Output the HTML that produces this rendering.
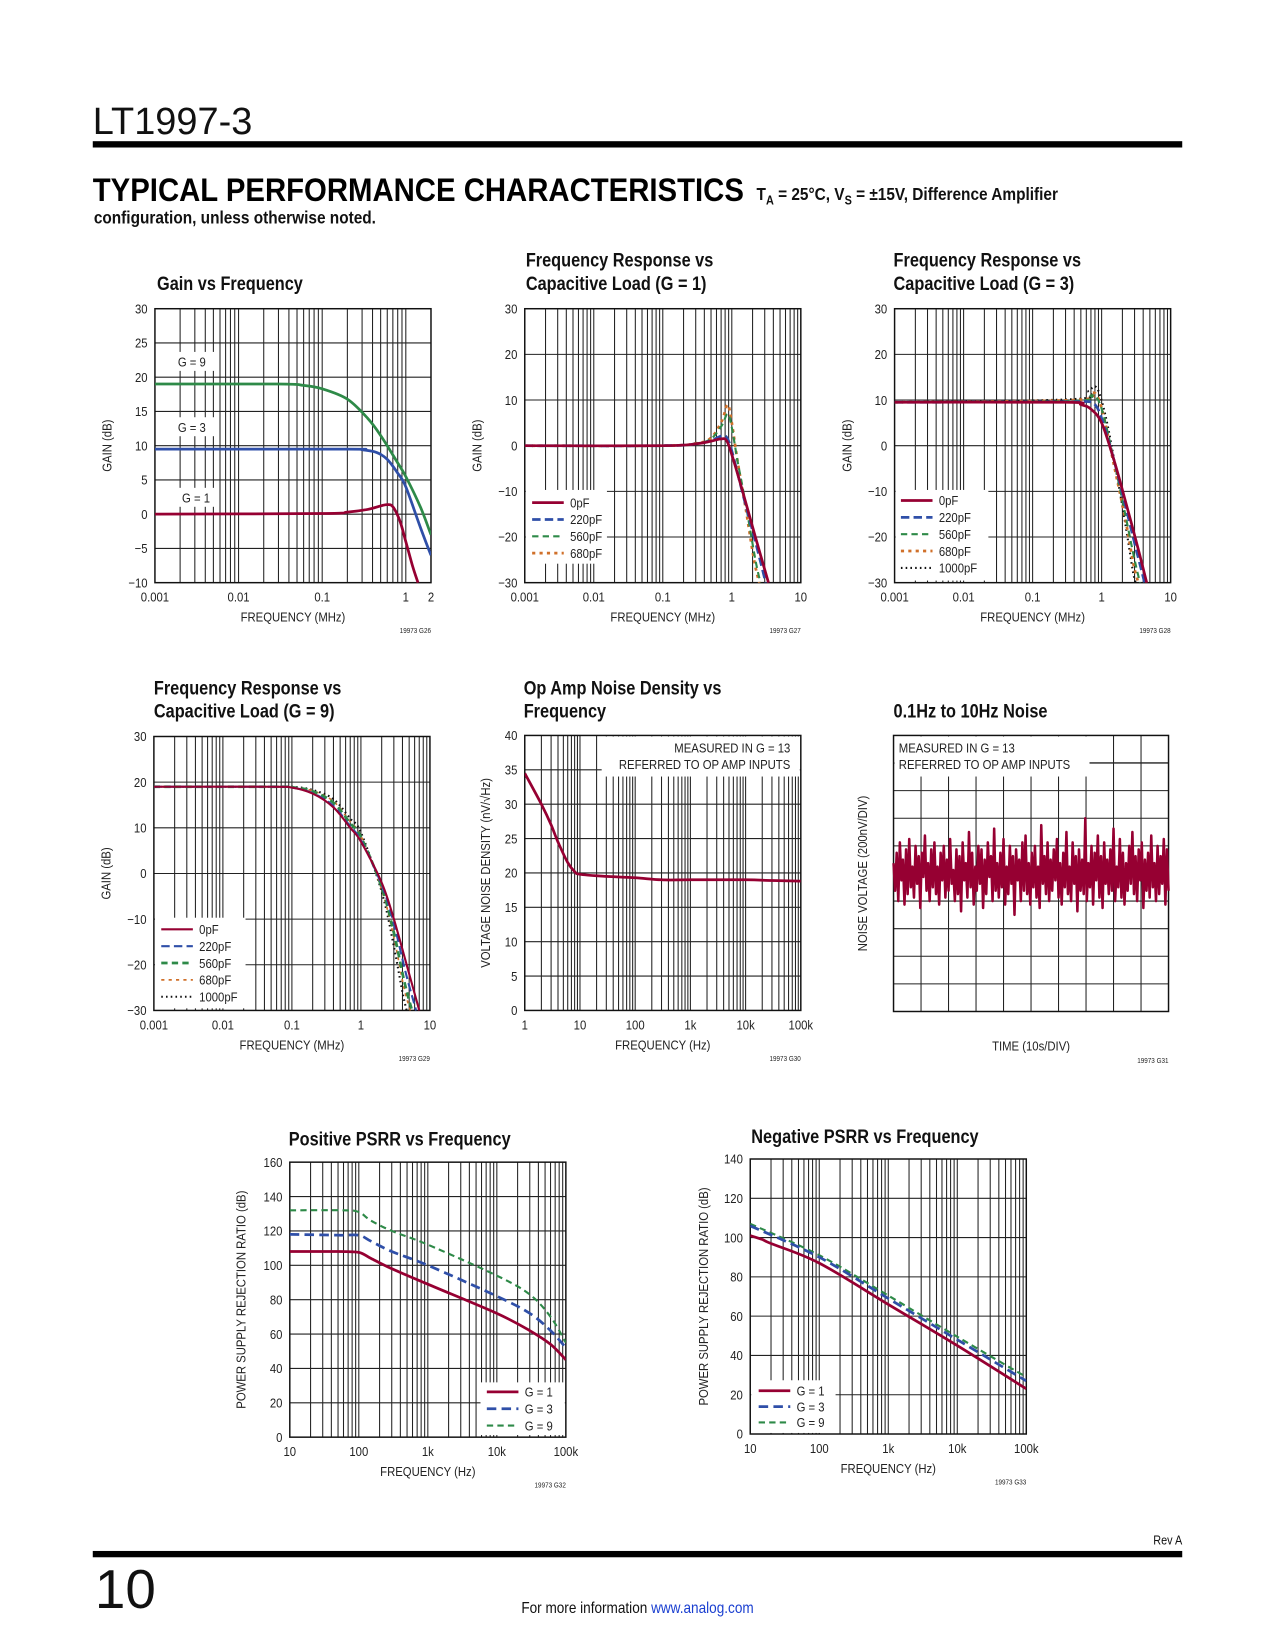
<!DOCTYPE html>
<html><head><meta charset="utf-8"><style>
html,body{margin:0;padding:0;background:#fff;}
svg{display:block;font-family:"Liberation Sans Narrow","Liberation Sans",sans-serif;}
</style></head><body>
<svg id="pg" width="1275" height="1650" viewBox="0 0 1210 1566" xmlns="http://www.w3.org/2000/svg">
<text x="88" y="127" font-size="36" font-family="Liberation Sans" font-weight="300" fill="#111">LT1997-3</text>
<rect x="88" y="134" width="1034" height="6" fill="#000"/>
<text x="88" y="191" font-size="31" font-weight="bold" font-family="Liberation Sans" fill="#000" textLength="618" lengthAdjust="spacingAndGlyphs">TYPICAL PERFORMANCE CHARACTERISTICS</text>
<text transform="translate(718,190) scale(0.86,1)" font-size="17" font-weight="bold" fill="#111">T<tspan font-size="12" dy="4">A</tspan><tspan dy="-4"> = 25°C, V</tspan><tspan font-size="12" dy="4">S</tspan><tspan dy="-4"> = ±15V, Difference Amplifier</tspan></text>
<text transform="translate(89,212) scale(0.86,1)" font-size="17" font-weight="bold" fill="#111">configuration, unless otherwise noted.</text>
<text transform="translate(1122,1466) scale(0.86,1)" font-size="12" text-anchor="end" fill="#111">Rev A</text>
<rect x="88" y="1472" width="1034" height="6" fill="#000"/>
<text x="90" y="1526" font-size="52" font-family="Liberation Sans" font-weight="300" fill="#111">10</text>
<text transform="translate(605,1531) scale(0.86,1)" font-size="15" text-anchor="middle" fill="#111">For more information <tspan fill="#1a3fd0">www.analog.com</tspan></text>
<g id="charts"></g>
</svg>
<script>
// ---------- data ----------
const c1G1 = [[0.001,0],[0.1,0.1],[0.2,0.3],[0.35,0.7],[0.5,1.2],[0.6,1.4],[0.7,1.1],[0.85,-1],[1.0,-4],[1.2,-7.5],[1.4,-10]];
const c1G3 = [[0.001,9.5],[0.2,9.5],[0.3,9.4],[0.45,9],[0.6,8],[0.8,6],[1,4],[1.5,-2],[2,-6]];
const c1G9 = [[0.001,19],[0.03,19],[0.06,18.8],[0.1,18.3],[0.2,16.8],[0.35,14],[0.5,11.5],[0.8,7.5],[1,5.5],[1.5,1],[2,-3]];
const c2P0 = [[0.001,0],[0.1,0],[0.3,0.4],[0.5,1],[0.7,1.5],[0.85,1],[1.05,-3],[1.5,-11],[2.2,-20],[3.4,-30]];
const c2P220 = [[0.001,0],[0.1,0],[0.3,0.4],[0.5,1.1],[0.75,2.2],[0.9,1],[1.1,-3.5],[1.5,-11.5],[2.2,-21],[3.1,-30]];
const c2P560 = [[0.001,0],[0.1,0],[0.3,0.5],[0.5,1.5],[0.72,4.5],[0.87,7],[1.0,4],[1.2,-3],[1.6,-13],[2.2,-25],[2.6,-30]];
const c2P680 = [[0.001,0],[0.1,0],[0.3,0.5],[0.5,1.7],[0.72,5.5],[0.87,9],[1.0,5],[1.2,-3],[1.6,-14],[2.1,-25],[2.5,-30]];
const c3P0 = [[0.001,9.5],[0.3,9.5],[0.5,9],[0.7,8],[1,5],[1.5,-3],[2.2,-12],[3.3,-22],[4.5,-30]];
const c3P220 = [[0.001,9.5],[0.3,9.6],[0.6,9.7],[0.8,9],[1,6],[1.5,-3],[2.2,-13],[3.2,-23],[4.2,-30]];
const c3P560 = [[0.001,9.5],[0.4,9.8],[0.7,11],[0.85,10.5],[1.05,7],[1.5,-3],[2.2,-15],[3,-25],[3.6,-30]];
const c3P680 = [[0.001,9.5],[0.4,10],[0.7,11.5],[0.85,11],[1.05,7],[1.5,-4],[2.2,-16],[2.9,-26],[3.4,-30]];
const c3P1000 = [[0.001,9.5],[0.4,10.2],[0.65,12],[0.8,13],[0.95,11],[1.2,5],[1.6,-5],[2.2,-17],[2.8,-27],[3.1,-30]];
const c4P0 = [[0.001,19],[0.05,19],[0.1,18.8],[0.2,17.5],[0.4,14.5],[0.7,10],[1,7],[2,-2],[3,-10],[5,-22],[7,-30]];
const c4P220 = [[0.001,19],[0.05,19],[0.1,18.8],[0.2,17.6],[0.4,14.8],[0.7,10.3],[1,7.3],[2,-2.5],[3,-11],[4.5,-22],[6.3,-30]];
const c4P560 = [[0.001,19],[0.05,19],[0.1,18.9],[0.2,18],[0.4,15.5],[0.7,11],[1,8],[2,-3],[3,-13],[4.3,-24],[5.5,-30]];
const c4P680 = [[0.001,19],[0.05,19],[0.1,18.9],[0.2,18.1],[0.4,15.8],[0.7,11.3],[1,8.2],[2,-3.5],[3,-14],[4.2,-25],[5.2,-30]];
const c4P1000 = [[0.001,19],[0.05,19],[0.1,19],[0.2,18.3],[0.4,16.3],[0.7,12],[1,9],[2,-4],[3,-16],[4,-26],[4.6,-30]];
const c5Noise = [[1,34.5],[2,30],[3,27],[4,24.5],[6,21.5],[8,20.2],[10,19.8],[30,19.5],[100,19.3],[300,19],[1000,19],[10000,19],[30000,18.9],[100000,18.8]];
const c6Noise = [3,-5,6,-8,9,-2,4,-9,7,-6,10,-4,2,-7,8,-3,5,-10,6,-1,11,-5,3,-8,7,-4,9,-6,2,-9,6,-2,8,-7,4,-5,10,-3,1,-8,7,-6,5,-11,9,-2,3,-7,12,-4,6,-9,2,-5,8,-3,7,-10,4,-6,9,-1,5,-8,13,-5,3,-7,6,-4,10,-9,2,-6,8,-3,5,-12,7,-2,4,-8,9,-5,11,-6,3,-9,6,-4,8,-7,2,-10,14,-3,5,-6,9,-8,4,-5,7,-2,10,-7,3,-9,6,-4,12,-6,2,-8,9,-3,5,-11,7,-5,4,-6,16,-8,3,-4,8,-9,6,-2,11,-7,5,-10,9,-3,4,-6,7,-5,13,-8,2,-4,10,-7,6,-9,3,-5,8,-3,12,-6,5,-8,7,-2,9,-10,4,-5,6,-7,11,-4,3,-8,8,-6,5,-3,10,-9,7,-5];
const c7G1 = [[10,108],[50,108],[100,107.5],[150,104],[300,98],[1000,89],[10000,72],[30000,62],[60000,54],[100000,45]];
const c7G3 = [[10,118],[50,117.5],[100,117.5],[150,114],[300,108],[1000,100],[10000,82],[30000,72],[60000,62],[100000,52]];
const c7G9 = [[10,132],[60,132],[100,131],[150,126],[300,120],[1000,112],[10000,94],[30000,83],[60000,70],[100000,55]];
const c8G1 = [[10,101],[15,99],[20,97],[100,87],[1000,66],[10000,45],[100000,23]];
const c8G3 = [[10,106],[100,90],[1000,69],[10000,48],[100000,27]];
const c8G9 = [[10,107],[100,91],[1000,70.5],[10000,49.5],[100000,29]];
const mhzTicks = ['0.001','0.01','0.1','1','10'];
const hzTicks5 = ['1','10','100','1k','10k','100k'];
const hzTicks4 = ['10','100','1k','10k','100k'];

// ---------- drawing ----------
const NS='http://www.w3.org/2000/svg';
const root=document.getElementById('charts');
const RED='#960032',BLUE='#2f4fa8',GREEN='#2e8a48',ORANGE='#d0702a',BLK='#111';
const NARROW=0.86;
function mk(tag,attrs,parent){const e=document.createElementNS(NS,tag);for(const k in attrs)e.setAttribute(k,attrs[k]);(parent||root).appendChild(e);return e;}
function txt(parent,x,y,s,size,anchor,extra){
 const a=Object.assign({x:0,y:0,'font-size':size,'text-anchor':anchor||'start',fill:'#222'},extra||{});
 if(a.transform){a.transform=a.transform+' scale('+NARROW+',1)';}else{a.transform='translate('+x+','+y+') scale('+NARROW+',1)';}
 const t=mk('text',a,parent);t.textContent=s;return t;}
function smooth(pts){let d='M'+pts[0][0].toFixed(1)+','+pts[0][1].toFixed(1);
 for(let i=0;i<pts.length-1;i++){const p0=pts[i-1]||pts[i],p1=pts[i],p2=pts[i+1],p3=pts[i+2]||p2;
  const c1=[p1[0]+(p2[0]-p0[0])/6,p1[1]+(p2[1]-p0[1])/6],c2=[p2[0]-(p3[0]-p1[0])/6,p2[1]-(p3[1]-p1[1])/6];
  d+='C'+c1[0].toFixed(1)+','+c1[1].toFixed(1)+' '+c2[0].toFixed(1)+','+c2[1].toFixed(1)+' '+p2[0].toFixed(1)+','+p2[1].toFixed(1);}
 return d;}
function chart(c){
 const g=mk('g',{});
 
 
 const [L,T,R,B]=c.box;
 const sx=c.logx?(v=>L+(Math.log10(v)-Math.log10(c.xmin))/(Math.log10(c.xmax)-Math.log10(c.xmin))*(R-L)):(v=>L+(v-c.xmin)/(c.xmax-c.xmin)*(R-L));
 const sy=v=>B-(v-c.ymin)/(c.ymax-c.ymin)*(B-T);
 const grid=mk('g',{stroke:'#222','stroke-width':1},g);
 
 
 if(c.logx){for(let d=Math.floor(Math.log10(c.xmin));d<Math.log10(c.xmax);d++)for(let m=1;m<10;m++){const v=m*Math.pow(10,d);if(v>c.xmin&&v<c.xmax){const x=sx(v);mk('line',{x1:x,x2:x,y1:T,y2:B},grid);}}}
 else{for(let i=1;i<c.xdiv;i++){const x=L+i*(R-L)/c.xdiv;mk('line',{x1:x,x2:x,y1:T,y2:B},grid);}}
 for(let v=c.ymin+c.ystep;v<c.ymax-1e-9;v+=c.ystep){const y=sy(v);mk('line',{x1:L,x2:R,y1:y,y2:y},grid);}
 (c.masks||[]).forEach(m=>{const r=mk('rect',{x:m[0],y:m[1],width:m[2],height:m[3],fill:'#fff'},g);
  
  });
 (c.regrid||[]).forEach(l=>mk('line',{x1:l[0],y1:l[1],x2:l[2],y2:l[3],stroke:'#222','stroke-width':1},g));
 const frame=mk('rect',{x:L,y:T,width:R-L,height:B-T,fill:'none',stroke:'#111','stroke-width':1.4},g);
 
 
 for(let v=c.ymin;v<=c.ymax+1e-9;v+=c.ystep){if(c.noYLabels)break;const t=txt(g,L-7,sy(v)+4.5,(v<0?'\u2212'+(-v):String(v)),12.5,'end');
  
  }
 (c.xticks||[]).forEach((s,i)=>{const v=c.xtickVals[i];const t=txt(g,sx(v),B+18,s,12.5,'middle');
  
  });
 c.title.forEach((s,i)=>{const t=txt(g,c.tx,c.ty+i*22,s,18,'start',{'font-weight':'bold',fill:'#111'});
  
  });
 const yl=txt(g,0,0,c.ylabel,12.5,'middle',{transform:'translate('+c.ylx+','+((T+B)/2)+') rotate(-90)'});
 
 
 const xl=txt(g,(L+R)/2,c.xly||B+37,c.xlabel,12.5,'middle');
 
 
 const cd=txt(g,R,c.cdy||B+48,c.code,7,'end');
 
 
 (c.notes||[]).forEach(n=>{const t=txt(g,n[0],n[1],n[2],12.5,n[3]||'start');
  
  });
 const clip='clip'+c.name;const cp=mk('clipPath',{id:clip},g);mk('rect',{x:L,y:T-2,width:R-L,height:B-T+4},cp);
 (c.series||[]).forEach(s=>{const pts=s.data.map(p=>[sx(p[0]),sy(p[1])]);
  const p=mk('path',{d:smooth(pts),fill:'none',stroke:s.color,'stroke-width':s.w||2.6,'stroke-dasharray':s.dash||'none','clip-path':'url(#'+clip+')','stroke-linejoin':'round'},g);
  
  });
 if(c.legend){c.legend.items.forEach((s,i)=>{const y=c.legend.y+i*c.legend.dy;
  const l=mk('line',{x1:c.legend.x,x2:c.legend.x+30,y1:y,y2:y,stroke:s.color,'stroke-width':s.w||2.6,'stroke-dasharray':s.dash||'none'},g);
  
  
  const t=txt(g,c.legend.x+36,y+4.5,s.label,12.5,'start');
  
  });}
 return {g,sx,sy};
}
const S=(id,data,color,dash,label,w)=>({id,data,color,dash,label,w});
const dash220='8,4',dash560='6,4',dash680='3,4',dot1000='1.5,3';

chart({name:'gain-vs-frequency',box:[147,293,409,553],logx:true,xmin:0.001,xmax:2,ymin:-10,ymax:30,ystep:5,
 xticks:['0.001','0.01','0.1','1','2'],xtickVals:[0.001,0.01,0.1,1,2],title:['Gain vs Frequency'],tx:149,ty:275,ylabel:'GAIN (dB)',ylx:106,
 xlabel:'FREQUENCY (MHz)',code:'19973 G26',masks:[[162,334,42,18],[162,396,42,18],[166,463,42,18]],
 notes:[[182,348,'G = 9','middle'],[182,410,'G = 3','middle'],[186,477,'G = 1','middle']],
 series:[S('series-g9',c1G9,GREEN),S('series-g3',c1G3,BLUE),S('series-g1',c1G1,RED)]});
const l2=[S('series-0pf',c2P0,RED,null,'0pF'),S('series-220pf',c2P220,BLUE,dash220,'220pF'),S('series-560pf',c2P560,GREEN,dash560,'560pF',2),S('series-680pf',c2P680,ORANGE,dash680,'680pF')];
chart({name:'freq-response-g1',box:[498,293,760,553],logx:true,xmin:0.001,xmax:10,ymin:-30,ymax:30,ystep:10,
 xticks:mhzTicks,xtickVals:[0.001,0.01,0.1,1,10],title:['Frequency Response vs','Capacitive Load (G = 1)'],tx:499,ty:253,ylabel:'GAIN (dB)',ylx:457,
 xlabel:'FREQUENCY (MHz)',code:'19973 G27',masks:[[499,465,77,70]],
 series:l2.slice().reverse(),legend:{x:505,y:477,dy:16,items:l2}});
const l3=[S('series-0pf',c3P0,RED,null,'0pF'),S('series-220pf',c3P220,BLUE,dash220,'220pF'),S('series-560pf',c3P560,GREEN,dash560,'560pF',2),S('series-680pf',c3P680,ORANGE,dash680,'680pF'),S('series-1000pf',c3P1000,BLK,dot1000,'1000pF',2)];
chart({name:'freq-response-g3',box:[849,293,1111,553],logx:true,xmin:0.001,xmax:10,ymin:-30,ymax:30,ystep:10,
 xticks:mhzTicks,xtickVals:[0.001,0.01,0.1,1,10],title:['Frequency Response vs','Capacitive Load (G = 3)'],tx:848,ty:253,ylabel:'GAIN (dB)',ylx:808,
 xlabel:'FREQUENCY (MHz)',code:'19973 G28',masks:[[850,465,88,86]],
 series:l3.slice().reverse(),legend:{x:855,y:475,dy:16,items:l3}});
const l4=[S('series-0pf',c4P0,RED,null,'0pF',2),S('series-220pf',c4P220,BLUE,dash220,'220pF',2),S('series-560pf',c4P560,GREEN,dash560,'560pF',2.6),S('series-680pf',c4P680,ORANGE,dash680,'680pF',1.6),S('series-1000pf',c4P1000,BLK,dot1000,'1000pF',2)];
chart({name:'freq-response-g9',box:[146,699,408,959],logx:true,xmin:0.001,xmax:10,ymin:-30,ymax:30,ystep:10,
 xticks:mhzTicks,xtickVals:[0.001,0.01,0.1,1,10],title:['Frequency Response vs','Capacitive Load (G = 9)'],tx:146,ty:659,ylabel:'GAIN (dB)',ylx:105,
 xlabel:'FREQUENCY (MHz)',code:'19973 G29',masks:[[147,871,86,86]],
 series:l4.slice().reverse(),legend:{x:153,y:882,dy:16,items:l4}});
chart({name:'noise-density-vs-frequency',box:[498,698,760,959],logx:true,xmin:1,xmax:100000,ymin:0,ymax:40,ystep:5,
 xticks:hzTicks5,xtickVals:[1,10,100,1000,10000,100000],title:['Op Amp Noise Density vs','Frequency'],tx:497,ty:659,ylabel:'VOLTAGE NOISE DENSITY (nV/\u221AHz)',ylx:465,
 xlabel:'FREQUENCY (Hz)',xly:996,cdy:1007,code:'19973 G30',masks:[[571,699,188,38]],
 notes:[[750,714,'MEASURED IN G = 13','end'],[750,730,'REFERRED TO OP AMP INPUTS','end']],
 series:[S('series-noise-density',c5Noise,RED)]});
const c6=chart({name:'low-freq-noise',box:[848,698,1109,960],logx:false,xmin:0,xmax:10,xdiv:10,ymin:-5,ymax:5,ystep:1,noYLabels:true,
 title:['0.1Hz to 10Hz Noise'],tx:848,ty:681,ylabel:'NOISE VOLTAGE (200nV/DIV)',ylx:823,
 xlabel:'TIME (10s/DIV)',xly:997,cdy:1009,code:'19973 G31',masks:[[849,699,185,38]],regrid:[[1034,724,1109,724]],
 notes:[[853,714,'MEASURED IN G = 13'],[853,730,'REFERRED TO OP AMP INPUTS']]});
(function(){let d='';const n=c6Noise.length;c6Noise.forEach((v,i)=>{const x=c6.sx(i*10/(n-1));const y=c6.sy(v/8);d+=(i?'L':'M')+x.toFixed(1)+','+y.toFixed(1);});
 const p=mk('path',{d:d,fill:'none',stroke:RED,'stroke-width':2.4,'stroke-linejoin':'round'},c6.g);
 
 })();
const l7=[S('series-g1',c7G1,RED,null,'G = 1'),S('series-g3',c7G3,BLUE,'9,5','G = 3'),S('series-g9',c7G9,GREEN,'6,4','G = 9',2)];
chart({name:'positive-psrr',box:[275,1103,537,1364],logx:true,xmin:10,xmax:100000,ymin:0,ymax:160,ystep:20,
 xticks:hzTicks4,xtickVals:[10,100,1000,10000,100000],title:['Positive PSRR vs Frequency'],tx:274,ty:1087,ylabel:'POWER SUPPLY REJECTION RATIO (dB)',ylx:233,
 xlabel:'FREQUENCY (Hz)',code:'19973 G32',masks:[[456,1312,80,50]],
 series:l7.slice().reverse(),legend:{x:462,y:1321,dy:16,items:l7}});
const l8=[S('series-g1',c8G1,RED,null,'G = 1'),S('series-g3',c8G3,BLUE,'9,5','G = 3'),S('series-g9',c8G9,GREEN,'6,4','G = 9',2)];
chart({name:'negative-psrr',box:[712,1100,974,1361],logx:true,xmin:10,xmax:100000,ymin:0,ymax:140,ystep:20,
 xticks:hzTicks4,xtickVals:[10,100,1000,10000,100000],title:['Negative PSRR vs Frequency'],tx:713,ty:1085,ylabel:'POWER SUPPLY REJECTION RATIO (dB)',ylx:672,
 xlabel:'FREQUENCY (Hz)',code:'19973 G33',masks:[[713,1310,80,50]],
 series:l8.slice().reverse(),legend:{x:720,y:1320,dy:15,items:l8}});
</script>
</body></html>
